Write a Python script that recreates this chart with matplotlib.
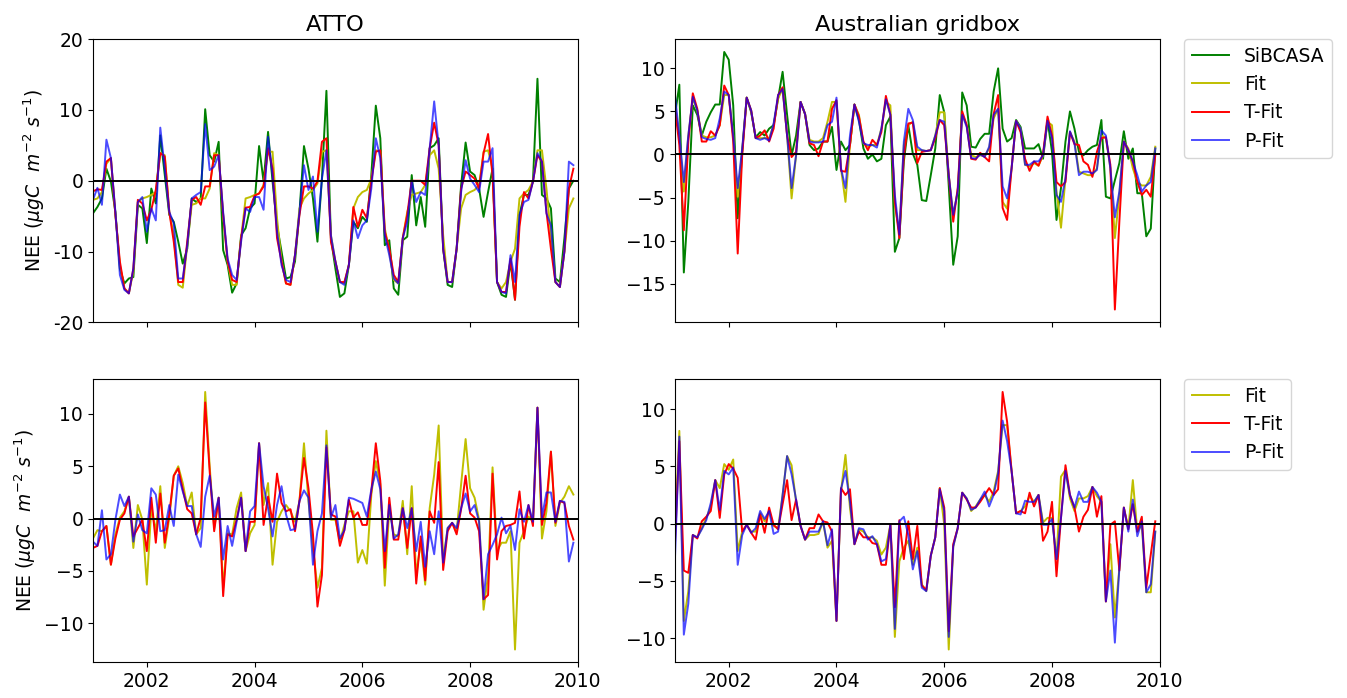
import numpy as np
import matplotlib
matplotlib.use("Agg")
import matplotlib.pyplot as plt

plt.rcParams['font.size'] = 13.5

# months Jan 2001 .. Dec 2009 as decimal years
years = 2001 + np.arange(108) / 12.0

# ---- ATTO, absolute NEE ----
atto_sib = [-4.6, -3.7, -2.5, 1.7, -0.1, -4.4, -12.4, -14.5, -13.8, -13.6, -3.4, -3.9,
            -8.8, -1.1, -3.2, 6.4, 0.8, -4.8, -5.8, -8.6, -11.7, -9.6, -2.5, -3.0,
            -2.5, 10.1, 3.6, 2.7, 5.5, -9.8, -11.9, -15.8, -14.5, -7.7, -6.7, -3.9,
            -3.2, 4.9, -0.1, 6.9, -0.1, -6.3, -10.0, -13.8, -13.6, -11.4, -4.4, 4.9,
            1.7, -2.5, -8.6, 0.3, 12.7, -8.1, -12.4, -16.4, -15.9, -11.9, -5.8, -6.7,
            -5.1, -5.8, 0.8, 10.6, 6.0, -9.1, -8.4, -15.2, -16.1, -8.4, -7.9, 0.8,
            -6.3, -2.3, -6.5, 4.6, 5.0, 6.0, -9.6, -14.7, -15.0, -9.6, -0.6, 5.4,
            1.3, 0.8, -1.1, -5.1, -1.6, 1.7, -14.3, -16.1, -16.4, -11.4, -16.8, -4.8,
            -2.0, -2.0, -0.1, 14.4, -2.0, -2.5, -3.9, -13.8, -14.3, -8.1, -1.1, 0.0]
atto_fit = [-2.7, -2.5, -1.6, 2.4, 3.2, -4.8, -11.9, -15.2, -15.9, -12.8, -3.0, -2.5,
            -2.3, -2.0, -1.6, 3.9, 3.6, -4.4, -7.7, -14.7, -15.1, -9.1, -3.4, -3.2,
            -2.5, -2.5, -1.1, 3.9, 3.6, -4.8, -11.4, -14.7, -14.7, -8.1, -2.5, -2.3,
            -2.0, -1.8, -0.6, 4.1, 4.1, -5.3, -11.4, -14.5, -14.7, -10.5, -3.9, -2.5,
            -1.8, -1.3, -0.4, 4.1, 4.3, -7.7, -11.4, -14.3, -14.5, -11.9, -3.9, -2.3,
            -1.6, -1.3, 0.3, 4.3, 4.1, -6.7, -10.0, -14.0, -14.5, -8.1, -4.4, -2.0,
            -1.8, -1.6, -0.6, 3.6, 4.3, 1.7, -7.7, -14.3, -14.3, -9.6, -3.9, -2.0,
            -1.6, -1.3, -0.6, 4.1, 4.3, 1.7, -14.3, -15.2, -14.3, -11.4, -9.6, -2.5,
            -1.8, -1.3, -0.1, 4.3, 4.3, -1.1, -7.7, -14.3, -15.0, -10.0, -3.9, -2.5]
atto_tfit = [-1.5, -1.2, -1.3, 2.7, 3.2, -4.8, -11.4, -15.2, -15.9, -12.4, -2.7, -3.2,
             -5.6, -4.1, -1.3, 3.9, 3.4, -4.4, -8.6, -14.3, -14.3, -8.6, -2.7, -2.3,
             -3.4, -0.8, -0.8, 3.6, 3.6, -4.8, -11.4, -14.0, -14.3, -8.1, -3.8, -3.7,
             -2.1, -1.8, -0.8, 4.6, 1.7, -8.1, -11.4, -14.5, -14.7, -10.5, -4.8, -0.8,
             -0.8, -1.1, -0.1, 5.5, 6.0, -8.6, -11.4, -14.3, -14.3, -11.9, -3.7, -6.5,
             -4.1, -5.3, -0.1, 4.1, 4.3, -7.2, -9.6, -13.3, -14.3, -8.1, -4.8, 0.0,
             0.0, 0.0, -0.6, 4.6, 8.2, 5.0, -9.6, -14.3, -14.3, -9.6, -1.1, 1.3,
             0.8, 0.3, -1.1, 3.9, 6.6, 0.8, -14.3, -15.7, -15.7, -11.0, -16.8, -6.5,
             -1.6, -2.5, -0.1, 3.6, 2.7, -4.4, -9.6, -14.3, -15.0, -10.0, -1.1, 1.7]
atto_pfit = [-2.7, -1.0, -3.4, 5.8, 3.2, -4.4, -13.3, -15.4, -15.9, -12.4, -3.0, -2.3,
             -7.2, -3.9, -5.6, 7.5, 1.7, -4.4, -6.0, -13.8, -13.8, -9.1, -2.5, -2.0,
             -1.6, 8.0, 1.5, 2.0, 3.6, -4.4, -11.0, -13.3, -14.0, -8.6, -3.9, -4.4,
             -2.3, -2.3, -4.1, 6.2, 0.8, -7.2, -11.9, -14.0, -14.3, -10.5, -4.4, 2.2,
             -1.3, 0.6, -7.2, 0.3, 4.3, -7.7, -11.4, -14.3, -14.7, -11.9, -5.6, -8.1,
             -6.3, -5.6, -1.1, 6.0, 3.2, -7.7, -10.5, -13.8, -14.5, -8.1, -5.8, 0.0,
             -3.0, -1.6, -2.0, 4.6, 11.2, 5.0, -9.6, -14.3, -14.3, -9.6, -1.6, 2.9,
             0.3, -0.6, -1.6, 2.7, 2.7, 4.6, -14.3, -15.7, -15.9, -10.5, -14.3, -4.8,
             -3.0, -2.7, -0.1, 3.9, 2.7, -4.6, -6.3, -14.3, -15.0, -10.0, 2.7, 2.2]

# ---- Australian gridbox, absolute NEE ----
aus_sib = [4.5, 8.1, -13.7, -5.5, 5.7, 4.6, 2.2, 3.8, 4.9, 5.8, 5.8, 11.9,
           11.0, 5.7, -7.4, 0.3, 6.6, 4.9, 2.0, 2.6, 2.2, 3.0, 3.4, 6.5,
           9.6, 4.6, -0.1, 2.2, 6.1, 4.7, 1.1, 0.5, 0.7, 1.5, 1.5, 3.2,
           -1.8, 1.5, 0.5, 1.1, 5.8, 4.0, 0.7, -0.5, 0.0, -0.8, -0.5, 3.4,
           4.4, -11.3, -9.7, -0.8, 3.4, 0.1, -1.2, -5.3, -5.4, -2.4, 0.7, 6.9,
           4.9, -3.6, -12.8, -9.5, 7.2, 5.7, 0.9, 0.8, 1.8, 2.4, 2.4, 7.3,
           10.0, 3.0, 1.5, 1.9, 4.0, 3.2, 0.7, 0.7, 0.7, 1.2, -0.5, 4.0,
           0.3, -7.6, -3.9, 1.5, 5.0, 3.0, 0.3, -0.1, 0.5, 0.9, 1.1, 4.0,
           -4.9, -5.1, -3.0, -1.0, 2.7, -0.5, 0.7, -4.5, -4.5, -9.5, -8.6, 0.7]
aus_fit = [6.0, 1.9, -4.3, 2.2, 6.5, 5.1, 2.2, 2.0, 2.0, 2.2, 3.4, 6.9,
           6.9, 2.2, -4.9, 0.5, 6.6, 5.1, 1.9, 1.9, 1.9, 1.9, 3.4, 6.5,
           7.6, 2.2, -5.1, -0.1, 6.1, 4.7, 1.7, 1.5, 1.5, 1.9, 3.8, 6.1,
           6.1, -1.6, -5.5, 1.1, 5.8, 4.6, 1.3, 0.9, 1.1, 1.1, 3.0, 6.1,
           5.7, -5.9, -9.0, 1.1, 3.4, 3.8, 0.5, 0.5, 0.4, 0.5, 2.2, 4.9,
           4.9, -2.4, -7.0, -4.3, 4.7, 3.4, -0.1, -0.3, -0.1, -0.2, 0.7, 4.2,
           5.3, -5.5, -6.3, -1.6, 3.9, 3.0, -1.2, -1.4, -1.0, -1.3, -0.1, 3.8,
           3.4, -4.3, -8.5, -2.8, 2.6, 1.5, -2.0, -2.2, -2.4, -2.4, -1.6, 2.2,
           1.9, -1.6, -9.7, -4.7, 1.5, 0.7, -1.6, -3.2, -3.6, -3.6, -2.6, 0.9]
aus_tfit = [5.5, 1.1, -8.8, 1.5, 7.1, 5.3, 1.5, 1.5, 2.7, 2.2, 3.4, 8.0,
            6.9, 1.5, -11.5, -0.1, 6.6, 5.1, 1.9, 2.2, 2.8, 1.5, 3.0, 6.9,
            7.8, 2.2, -0.3, 0.3, 6.1, 4.7, 1.3, 1.1, -0.2, 1.5, 1.5, 5.3,
            6.3, -1.9, -2.0, 1.1, 5.8, 4.4, 1.5, 0.5, 1.7, 1.1, 2.6, 6.8,
            4.6, -5.5, -9.7, -0.1, 3.6, 3.7, -1.0, 0.3, 0.4, 0.5, 1.9, 4.0,
            3.4, -2.4, -7.8, -3.9, 5.0, 3.4, -0.5, -0.6, 0.2, -0.3, -0.8, 4.7,
            6.9, -6.2, -7.6, -1.6, 3.9, 2.6, -0.5, -1.9, -0.8, -1.3, 0.1, 4.4,
            2.2, -3.2, -3.7, -3.2, 2.6, 1.2, 1.1, -0.8, -1.2, -2.6, 0.3, 1.9,
            2.0, -1.2, -18.0, -7.8, 1.5, 0.5, -0.8, -3.2, -4.7, -4.1, -4.9, -0.1]
aus_pfit = [7.0, 2.2, -3.2, 2.2, 6.7, 5.1, 2.0, 1.8, 1.7, 1.9, 4.2, 7.3,
            6.9, 2.2, -3.9, 0.7, 6.6, 5.1, 1.9, 1.7, 1.9, 1.6, 3.6, 6.9,
            7.6, 2.2, -3.9, -0.1, 6.1, 4.7, 1.5, 1.4, 1.4, 1.5, 3.4, 3.8,
            6.6, -1.6, -3.9, 2.2, 5.8, 3.8, 1.3, 1.1, 1.1, 0.8, 3.0, 6.4,
            4.6, -4.7, -9.3, 1.5, 5.3, 4.0, 0.9, 0.5, 0.4, 0.5, 2.2, 4.0,
            3.8, -2.4, -7.0, -4.3, 4.6, 3.2, -0.4, -0.5, 0.0, -0.3, 0.9, 4.6,
            5.3, -3.7, -5.1, -1.6, 3.9, 3.0, -1.2, -1.2, -0.8, -0.8, -0.1, 3.9,
            1.9, -4.7, -5.5, -2.8, 2.7, 1.3, -2.4, -2.0, -2.0, -2.2, -1.8, 2.8,
            2.2, -1.6, -7.3, -4.3, 1.5, 0.5, -0.8, -2.4, -4.3, -3.6, -3.2, 0.7]

# ---- ATTO, anomalies ----
atto_fit_a = [-1.9, -1.1, -1.2, -0.7, -4.4, -1.5, 0.1, 0.7, 2.1, -2.8, 1.3, -0.1,
              -6.3, 1.0, -1.2, 3.1, -2.8, 0.1, 4.1, 5.0, 3.4, 1.2, 2.5, -1.5,
              -0.9, 12.1, 5.0, -0.9, 2.0, -6.6, -1.4, -1.5, 1.0, 2.5, -3.1, -1.4,
              -0.6, 7.2, 1.3, 3.4, -4.4, -0.3, 0.7, 1.3, 0.7, -0.3, 1.7, 7.2,
              1.7, -2.8, -6.6, -4.7, 8.4, -0.1, -0.1, -2.2, -0.6, 0.7, 0.7, -4.2,
              -3.0, -4.3, 2.3, 5.5, 3.3, -6.4, 1.0, -1.5, -1.7, 1.7, -3.4, 3.1,
              -5.4, -2.2, -6.3, 1.0, 4.2, 8.9, -4.1, -0.9, -0.4, -1.2, 3.3, 7.6,
              2.9, 2.0, -0.1, -8.7, -5.4, 4.9, -3.1, -2.3, -2.3, -1.2, -12.5, -2.3,
              -1.2, 0.2, -0.3, 10.6, -1.9, 0.7, 6.4, -0.7, 1.5, 2.1, 3.1, 2.3]
atto_tfit_a = [-2.8, -2.6, -1.2, -0.7, -4.4, -1.9, -0.1, 0.5, 2.1, -1.7, -0.9, -0.1,
               -3.1, 2.0, -2.3, 2.4, -2.3, 0.4, 4.1, 4.8, 2.8, 0.9, 0.5, -1.5,
               0.1, 11.1, 4.5, -1.2, 2.0, -7.4, -1.5, -1.7, -0.1, 2.0, -3.1, -0.3,
               -0.3, 7.2, -0.6, 2.1, -0.3, 4.3, 1.5, 0.7, 0.9, -1.2, 1.7, 5.8,
               2.9, -1.5, -8.4, -5.4, 6.8, 0.4, 0.2, -2.6, -1.1, 1.8, 0.1, 0.6,
               -0.6, -0.6, 2.6, 7.2, 3.6, -4.7, 2.0, -2.0, -2.0, 1.0, -2.8, 1.0,
               -6.2, -1.7, -5.9, 0.7, -0.4, 5.4, -4.9, -1.2, -0.4, -1.5, 0.9, 4.1,
               0.5, 0.1, -1.2, -7.7, -7.3, 4.3, -3.9, -1.2, -0.7, -0.6, -0.4, 2.6,
               -1.9, 1.3, -0.7, 10.6, -0.6, 1.5, 6.4, -0.4, 1.7, 1.5, -0.7, -2.0]
atto_pfit_a = [-2.2, -2.6, 0.8, -3.9, -3.4, -0.1, 2.3, 1.2, 2.1, -2.2, 0.4, -1.1,
               -1.4, 2.9, 2.3, -1.2, -1.1, 1.3, -0.7, 4.2, 2.6, 1.2, 1.2, -1.5,
               -2.7, 2.1, 4.1, 0.2, 2.0, -3.9, -0.7, -2.6, -0.3, 2.0, -3.1, 0.7,
               1.2, 7.2, 3.1, 1.0, -1.7, 1.3, 3.1, 0.4, -1.1, -1.0, 1.7, 2.7,
               2.0, -4.4, -1.2, 0.5, 7.0, 0.1, 1.3, -1.9, -1.1, 2.0, 1.9, 1.7,
               1.5, 0.2, 2.8, 4.5, 2.8, -3.1, 1.3, -1.9, -1.5, 1.0, -0.9, 1.0,
               -3.1, -0.3, -4.6, -1.2, -3.4, 0.7, -4.2, -0.9, -0.4, -0.9, 1.0, 2.4,
               0.7, 1.3, -0.3, -7.7, -3.4, -2.5, -1.5, 0.1, -1.4, -0.7, -3.0, 0.9,
               -0.3, 1.3, -0.3, 10.6, 0.1, 2.5, 2.5, -0.3, 1.7, 1.6, -4.1, -2.3]

# ---- Australian gridbox, anomalies ----
aus_fit_a = [-1.0, 8.1, -8.5, -5.9, -1.0, -1.2, -0.4, 0.5, 1.5, 3.8, 3.1, 5.2,
             4.7, 5.6, -2.4, -0.7, -0.1, -0.7, -0.7, 0.9, 0.2, 1.1, -0.2, -0.4,
             2.5, 5.9, 5.1, 1.9, -0.2, -1.4, -1.0, -1.0, -0.9, 0.2, -2.1, -1.5,
             -8.5, 2.8, 6.0, 1.4, -1.8, -0.5, -0.7, -1.2, -1.2, -1.5, -2.7, -2.1,
             -0.1, -9.9, -3.3, -2.1, -1.5, -3.6, -2.1, -5.3, -5.9, -2.8, -1.2, 3.1,
             -0.1, -11.0, -2.0, -0.4, 2.7, 2.2, 1.1, 1.5, 2.1, 2.5, 1.9, 2.8,
             4.6, 8.6, 8.6, 4.6, 0.9, 1.1, 1.5, 2.4, 1.9, 2.5, 0.1, 0.5,
             0.5, -3.1, 4.1, 4.7, 2.2, 1.1, 2.2, 2.2, 2.4, 3.2, 2.4, 1.9,
             -6.8, -1.8, -8.2, -3.9, 1.4, -0.4, 3.8, -0.7, -0.1, -6.0, -6.0, -0.7]
aus_tfit_a = [-2.0, 7.2, -4.1, -4.3, -1.0, -1.3, 0.2, 0.6, 1.1, 3.8, 0.5, 4.3,
              5.2, 4.8, 4.0, -0.7, -0.1, -0.8, -1.4, 0.8, -0.8, 1.4, -0.1, -0.5,
              1.7, 3.8, 0.3, 2.1, -0.2, -1.4, -0.4, -0.4, 0.8, 0.2, 0.1, -0.7,
              -8.5, 3.1, 2.5, 3.0, -1.8, -0.7, -1.2, -1.2, -1.7, -1.8, -3.6, -3.6,
              -0.1, -7.3, 0.3, -3.1, 0.2, -3.1, -0.2, -5.4, -5.8, -2.8, -1.2, 3.1,
              1.4, -9.4, -1.8, -0.4, 2.7, 2.1, 1.4, 1.4, 1.9, 2.5, 3.1, 2.5,
              3.0, 11.5, 8.9, 4.6, 0.9, 1.1, 0.9, 2.7, 1.5, 2.5, -1.5, -0.7,
              1.9, -4.6, 0.5, 5.1, 2.5, 1.4, -0.7, 0.6, 1.2, 3.2, 0.6, 2.4,
              -6.8, -0.1, 0.2, -4.1, 1.4, -0.5, 1.7, -0.7, 0.6, -5.6, -2.7, 0.2]
aus_pfit_a = [-3.3, 7.6, -9.7, -7.0, -1.0, -1.2, -0.5, 0.3, 1.8, 3.8, 1.2, 4.6,
              4.3, 4.9, -3.6, -1.0, -0.1, -0.8, -0.4, 1.1, 0.4, 1.1, -0.9, -0.7,
              2.5, 5.9, 4.3, 2.1, -0.2, -1.4, -0.7, -0.7, -0.7, 0.2, -1.9, -0.5,
              -8.5, 3.0, 4.6, 1.9, -1.8, -0.4, -0.5, -1.4, -1.1, -1.8, -3.3, -3.1,
              -0.1, -9.2, 0.2, 0.6, -1.0, -4.0, -2.4, -5.6, -5.9, -2.8, -1.2, 3.0,
              1.1, -9.9, -2.0, -0.4, 2.7, 2.2, 1.2, 1.4, 2.1, 2.8, 1.5, 2.5,
              4.4, 9.0, 7.2, 4.6, 0.9, 0.8, 2.0, 1.9, 1.9, 2.5, -0.1, -0.1,
              0.4, -3.1, 0.5, 4.6, 2.5, 1.4, 2.8, 1.9, 1.9, 3.2, 2.7, 1.9,
              -6.8, -4.1, -10.4, -3.9, 1.4, -0.7, 2.1, -1.1, 0.2, -6.0, -5.3, -0.7]

year_ticks = [2002, 2004, 2006, 2008, 2010]
ylab = r'NEE ($\mu gC\ \ m^{-2}\ s^{-1}$)'
lw = 1.4

fig, axs = plt.subplots(2, 2, figsize=(13.47, 6.98), dpi=100, sharex=True)
plt.subplots_adjust(left=0.069, right=0.861, bottom=0.051, top=0.944,
                    wspace=0.2, hspace=0.2)

# top row: absolute values
for ax, sib, fit, tfit, pfit in [(axs[0, 0], atto_sib, atto_fit, atto_tfit, atto_pfit),
                                 (axs[0, 1], aus_sib, aus_fit, aus_tfit, aus_pfit)]:
    ax.plot(years, sib, color='g', lw=lw, label='SiBCASA')
    ax.plot(years, fit, color='y', lw=lw, label='Fit')
    ax.plot(years, tfit, color='r', lw=lw, label='T-Fit')
    ax.plot(years, pfit, color='b', alpha=0.7, lw=lw, label='P-Fit')
    ax.axhline(0, color='k', lw=1.4)

# bottom row: anomalies
for ax, fit, tfit, pfit in [(axs[1, 0], atto_fit_a, atto_tfit_a, atto_pfit_a),
                            (axs[1, 1], aus_fit_a, aus_tfit_a, aus_pfit_a)]:
    ax.plot(years, fit, color='y', lw=lw, label='Fit')
    ax.plot(years, tfit, color='r', lw=lw, label='T-Fit')
    ax.plot(years, pfit, color='b', alpha=0.7, lw=lw, label='P-Fit')
    ax.axhline(0, color='k', lw=1.4)

for ax in axs.flat:
    ax.set_xlim(2001, 2010)
    ax.set_xticks(year_ticks)

axs[0, 0].set_ylim(-20, 20)
axs[0, 0].set_yticks([-20, -10, 0, 10, 20])
axs[0, 0].set_yticklabels(['-20', '-10', '0', '10', '20'])

axs[0, 0].set_title('ATTO')
axs[0, 1].set_title('Australian gridbox')
axs[0, 0].set_ylabel(ylab)
axs[1, 0].set_ylabel(ylab)

axs[0, 1].legend(loc='upper left', bbox_to_anchor=(1.05, 1.0), borderaxespad=0)
axs[1, 1].legend(loc='upper left', bbox_to_anchor=(1.05, 1.0), borderaxespad=0)

plt.savefig('out.png', dpi=100)
